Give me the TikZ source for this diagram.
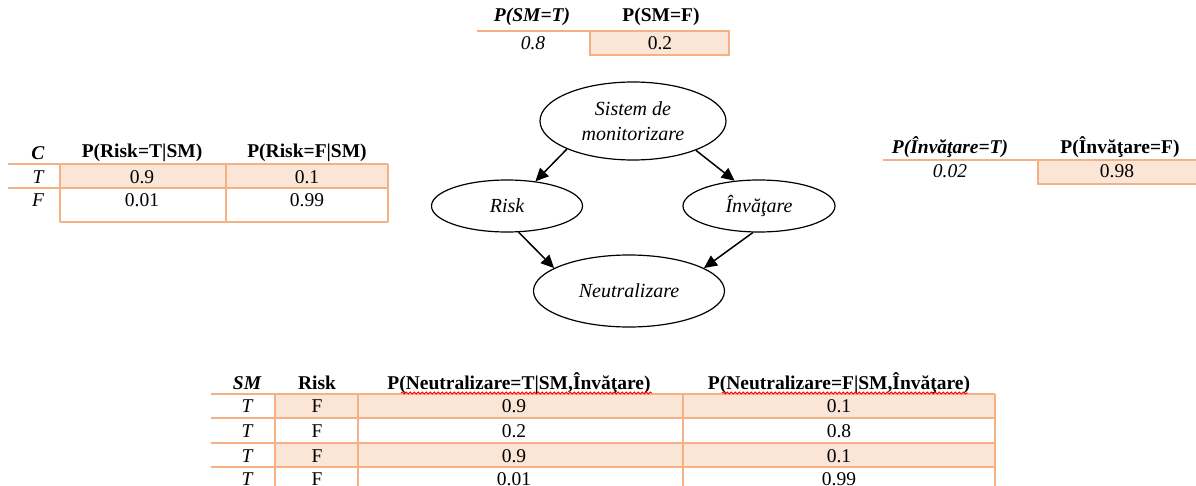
\documentclass[tikz,border=0pt]{standalone}
\usepackage{fontspec}
\setmainfont{Liberation Serif}
\usetikzlibrary{shapes.geometric,arrows.meta,decorations.pathmorphing}
\definecolor{tfill}{HTML}{FBE5D6}
\definecolor{tline}{HTML}{F4B183}
\begin{document}
\begin{tikzpicture}[x=1pt,y=-1pt,
  txt/.style={inner sep=0pt, font=\fontsize{19.5}{24}\selectfont},
  hb/.style={inner sep=0pt, font=\fontsize{19.5}{24}\selectfont\bfseries},
  hbi/.style={inner sep=0pt, font=\fontsize{19.5}{24}\selectfont\bfseries\itshape},
  ti/.style={inner sep=0pt, font=\fontsize{19.5}{24}\selectfont\itshape},
  orule/.style={draw=tline, line width=1.3pt},
  cellfill/.style={fill=tfill},
  bn/.style={draw, ellipse, line width=1.2pt, inner sep=0pt, font=\fontsize{20}{25}\selectfont\itshape, align=center},
  arr/.style={line width=1.5pt, -{Triangle[length=13pt,width=12pt]}},
  squig/.style={draw=red, line width=0.8pt, decorate, decoration={snake, amplitude=1.1pt, segment length=4pt}}
]
\useasboundingbox (0,0) rectangle (1196,486);

% ---------- top table P(SM)
\fill[cellfill] (590,31) rectangle (729,55);
\draw[orule] (477,31) -- (590,31);
\draw[orule] (590,31) rectangle (729,55);
\node[hbi] (smT) at (532,17) {P(SM=T)};
\node[hb]  (smF) at (661,17) {P(SM=F)};
\node[ti]  (v08) at (533,43) {0.8};
\node[txt] (v02) at (660,43) {0.2};

% ---------- left table P(Risk|SM)
\fill[cellfill] (60,164) rectangle (388,188);
\draw[orule] (8,164) -- (388,164);
\draw[orule] (8,188) -- (388,188);
\draw[orule] (60,222) -- (388,222);
\draw[orule] (60,164) -- (60,222);
\draw[orule] (226,164) -- (226,222);
\draw[orule] (388,164) -- (388,222);
\node[hbi] (rC)  at (38,153)  {C};
\node[hb]  (rhT) at (142,153) {P(Risk=T|SM)};
\node[hb]  (rhF) at (307,153) {P(Risk=F|SM)};
\node[ti]  (r1a) at (38,177)  {T};
\node[txt] (r1b) at (142,177) {0.9};
\node[txt] (r1c) at (307,177) {0.1};
\node[ti]  (r2a) at (38,200)  {F};
\node[txt] (r2b) at (142,200) {0.01};
\node[txt] (r2c) at (307,200) {0.99};

% ---------- right table P(Invatare)
\fill[cellfill] (1038,160) rectangle (1198,184);
\draw[orule] (883,160) -- (1198,160);
\draw[orule] (1198,184) -- (1038,184) -- (1038,160);
\node[hbi] (ihT) at (950,147)  {P(Învăţare=T)};
\node[hb]  (ihF) at (1120,147) {P(Învăţare=F)};
\node[ti]  (i1)  at (950,171)  {0.02};
\node[txt] (i2)  at (1117,171) {0.98};

% ---------- network
\node[bn, minimum width=186pt, minimum height=78pt] (sm)  at (633,121) {Sistem de\\monitorizare};
\node[bn, minimum width=151pt, minimum height=52pt] (risk) at (507,206) {Risk};
\node[bn, minimum width=152pt, minimum height=52pt] (inv)  at (759,206) {Învăţare};
\node[bn, minimum width=191pt, minimum height=72pt] (neu)  at (629,291) {Neutralizare};
\draw[arr] (sm.203) -- (risk.41);
\draw[arr] (sm.335) -- (inv.134);
\draw[arr] (risk.294) -- (neu.163);
\draw[arr] (inv.257) -- (neu.17);

% ---------- bottom table P(Neutralizare|SM,Invatare)
\fill[cellfill] (275,394) rectangle (995,418);
\fill[cellfill] (275,443) rectangle (995,467);
\foreach \yy in {394,418,443,467} \draw[orule] (211,\yy) -- (995,\yy);
\foreach \xx in {275,358,683,995} \draw[orule] (\xx,394) -- (\xx,490);
\node[hbi] (bSM) at (247,383) {SM};
\node[hb]  (bR)  at (317,383) {Risk};
\node[hb]  (bT)  at (519,383) {P(Neutralizare=T|SM,Învăţare)};
\node[hb]  (bF)  at (839,383) {P(Neutralizare=F|SM,Învăţare)};
\draw[squig] (401,393) -- (652,393);
\draw[squig] (722,393) -- (968,393);
\node[ti]  (a1) at (247,406) {T};
\node[txt] (b1) at (317,406) {F};
\node[txt] (c1) at (514,406) {0.9};
\node[txt] (d1) at (839,406) {0.1};
\node[ti]  (a2) at (247,431) {T};
\node[txt] (b2) at (317,431) {F};
\node[txt] (c2) at (514,431) {0.2};
\node[txt] (d2) at (839,431) {0.8};
\node[ti]  (a3) at (247,456) {T};
\node[txt] (b3) at (317,456) {F};
\node[txt] (c3) at (514,456) {0.9};
\node[txt] (d3) at (839,456) {0.1};
\node[ti]  (a4) at (247,479) {T};
\node[txt] (b4) at (317,479) {F};
\node[txt] (c4) at (514,479) {0.01};
\node[txt] (d4) at (839,479) {0.99};
\end{tikzpicture}
\end{document}
